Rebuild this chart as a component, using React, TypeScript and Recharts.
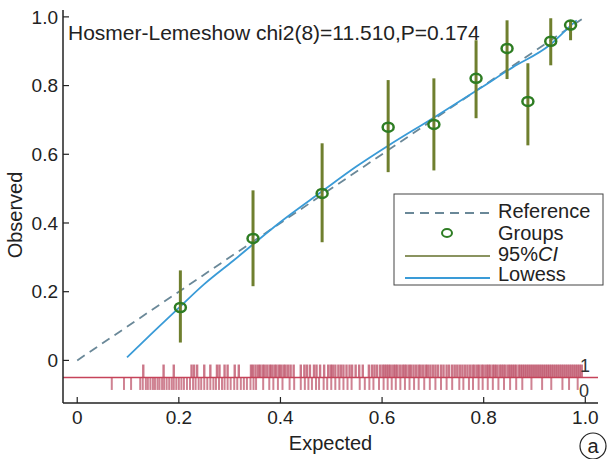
import React from 'react';
import {
  ComposedChart,
  Line,
  Scatter,
  ErrorBar,
  XAxis,
  YAxis,
  ReferenceLine,
} from 'recharts';

// grouped calibration points (expected vs observed) with 95% CI
const groupX = [0.203, 0.346, 0.482, 0.612, 0.702, 0.785, 0.846, 0.887, 0.932, 0.971];
const groupY = [0.154, 0.355, 0.486, 0.679, 0.687, 0.821, 0.908, 0.754, 0.929, 0.976];
const ciLow = [0.052, 0.216, 0.344, 0.548, 0.553, 0.705, 0.819, 0.626, 0.859, 0.932];
const ciHigh = [0.262, 0.495, 0.632, 0.816, 0.821, 0.932, 0.99, 0.865, 0.996, 0.99];

// lowess smoother
const lowessX = [0.098, 0.15, 0.2, 0.25, 0.307, 0.4, 0.48, 0.55, 0.612, 0.7, 0.793, 0.857, 0.93, 0.968, 0.983];
const lowessY = [0.009, 0.083, 0.153, 0.222, 0.29, 0.403, 0.49, 0.565, 0.625, 0.705, 0.792, 0.853, 0.918, 0.97, 0.99];

// reference diagonal
const refX = [0, 1];
const refY = [0, 1];

// rug: predicted probabilities for outcome = 1 and outcome = 0
const rugOnes = [
  0.13, 0.17, 0.19, 0.225, 0.23, 0.236, 0.25, 0.262, 0.275, 0.28, 0.29, 0.296, 0.31, 0.318,
  0.342, 0.346, 0.351, 0.356, 0.36, 0.365, 0.369, 0.374, 0.379, 0.383, 0.388, 0.392, 0.397, 0.401,
  0.406, 0.41, 0.415, 0.42, 0.426, 0.44, 0.447, 0.452, 0.458, 0.466, 0.471, 0.478, 0.486, 0.494,
  0.499, 0.503, 0.508, 0.514, 0.519, 0.524, 0.53, 0.536, 0.541, 0.548, 0.555, 0.562, 0.574, 0.58,
  0.585, 0.59, 0.596, 0.601, 0.605, 0.609, 0.613, 0.617, 0.622, 0.626, 0.63, 0.635, 0.64, 0.644,
  0.648, 0.653, 0.657, 0.662, 0.667, 0.672, 0.676, 0.681, 0.686, 0.69, 0.695, 0.7, 0.705, 0.71,
  0.716, 0.721, 0.727, 0.732, 0.738, 0.743, 0.748, 0.753, 0.758, 0.763, 0.768, 0.773, 0.778, 0.782,
  0.787, 0.791, 0.796, 0.8, 0.805, 0.809, 0.813, 0.818, 0.822, 0.826, 0.831, 0.835, 0.839, 0.843,
  0.848, 0.852, 0.856, 0.86, 0.864, 0.869, 0.873, 0.877, 0.881, 0.885, 0.889, 0.893, 0.897, 0.901,
  0.905, 0.909, 0.913, 0.917, 0.921, 0.925, 0.929, 0.933, 0.937, 0.941, 0.945, 0.949, 0.953, 0.957,
  0.961, 0.965, 0.969, 0.973, 0.977, 0.981, 0.985, 0.989, 0.993,
];
const rugZeros = [
  0.068, 0.092, 0.106, 0.124, 0.129, 0.135, 0.139, 0.144, 0.149, 0.153, 0.158, 0.162, 0.167, 0.171,
  0.176, 0.181, 0.186, 0.19, 0.195, 0.2, 0.205, 0.21, 0.216, 0.222, 0.228, 0.233, 0.239, 0.244,
  0.25, 0.256, 0.262, 0.268, 0.273, 0.279, 0.285, 0.29, 0.296, 0.302, 0.309, 0.315, 0.322, 0.328,
  0.334, 0.341, 0.347, 0.352, 0.366, 0.378, 0.386, 0.395, 0.404, 0.418, 0.427, 0.44, 0.448, 0.455,
  0.462, 0.47, 0.476, 0.485, 0.492, 0.5, 0.508, 0.516, 0.524, 0.532, 0.54, 0.556, 0.566, 0.575,
  0.583, 0.594, 0.603, 0.611, 0.619, 0.627, 0.636, 0.645, 0.654, 0.663, 0.672, 0.683, 0.694, 0.705,
  0.716, 0.727, 0.738, 0.752, 0.76, 0.771, 0.779, 0.79, 0.798, 0.808, 0.818, 0.829, 0.84, 0.852,
  0.864, 0.876, 0.894, 0.915, 0.933, 0.955, 0.968, 0.985,
];
const rugBase = -0.05;
const rugTop = -0.012;
const rugBottom = -0.086;

const xTicks = [0, 0.2, 0.4, 0.6, 0.8, 1.0];
const yTicks = [0, 0.2, 0.4, 0.6, 0.8, 1.0];

const groups = groupX.map((x, i) => ({
  x,
  y: groupY[i],
  err: [groupY[i] - ciLow[i], ciHigh[i] - groupY[i]],
}));
const lowess = lowessX.map((x, i) => ({ x, y: lowessY[i] }));
const reference = refX.map((x, i) => ({ x, y: refY[i] }));
const rugOneData = rugOnes.map((x) => ({ x, y: rugBase, err: [0, rugTop - rugBase] }));
const rugZeroData = rugZeros.map((x) => ({ x, y: rugBase, err: [rugBase - rugBottom, 0] }));

const FONT = '"Liberation Sans", Arial, sans-serif';
const fmt = (v: number) => (v === 0 ? '0' : v.toFixed(1));

const GroupMarker = (props: any) => {
  const { cx, cy } = props;
  if (cx == null || cy == null) return null;
  return <ellipse cx={cx} cy={cy} rx={5.5} ry={4.5} fill="none" stroke="#2e7d23" strokeWidth={2.5} />;
};
const NoMarker = () => <g />;

export default function App() {
  return (
    <div style={{ position: 'absolute', left: 0, top: 0, width: 610, height: 459, background: '#fff', fontFamily: FONT }}>
      <ComposedChart width={610} height={459} margin={{ top: 10, right: 12, bottom: 0, left: 0 }}>
        <XAxis
          type="number"
          dataKey="x"
          domain={[-0.028, 1.025]}
          allowDataOverflow
          ticks={xTicks}
          tickFormatter={fmt}
          height={56}
          tickSize={-6}
          tickMargin={14}
          axisLine={{ stroke: '#222', strokeWidth: 1.5 }}
          tickLine={{ stroke: '#222', strokeWidth: 1.2 }}
          tick={{ fill: '#222', fontSize: 19, fontFamily: FONT }}
          label={{ value: 'Expected', position: 'insideBottom', offset: 9, fill: '#222', fontSize: 20, fontFamily: FONT }}
        />
        <YAxis
          type="number"
          dataKey="y"
          domain={[-0.124, 1.02]}
          allowDataOverflow
          ticks={yTicks}
          tickFormatter={fmt}
          width={63}
          tickSize={-6}
          tickMargin={11}
          axisLine={{ stroke: '#222', strokeWidth: 1.5 }}
          tickLine={{ stroke: '#222', strokeWidth: 1.2 }}
          tick={{ fill: '#222', fontSize: 19, fontFamily: FONT }}
        />
        <Scatter data={rugOneData} dataKey="y" shape={<NoMarker />} isAnimationActive={false}>
          <ErrorBar dataKey="err" direction="y" width={0} stroke="#a81b38" strokeOpacity={0.6} strokeWidth={2.4} />
        </Scatter>
        <Scatter data={rugZeroData} dataKey="y" shape={<NoMarker />} isAnimationActive={false}>
          <ErrorBar dataKey="err" direction="y" width={0} stroke="#a81b38" strokeOpacity={0.55} strokeWidth={2} />
        </Scatter>
        <ReferenceLine y={rugBase} stroke="#c6435a" strokeWidth={1.5} />
        <Line
          data={reference}
          dataKey="y"
          type="linear"
          stroke="#6a8898"
          strokeWidth={1.8}
          strokeDasharray="9 6"
          dot={false}
          isAnimationActive={false}
        />
        <Line
          data={lowess}
          dataKey="y"
          type="monotone"
          stroke="#3a9bd7"
          strokeWidth={1.8}
          dot={false}
          isAnimationActive={false}
        />
        <Scatter data={groups} dataKey="y" shape={<GroupMarker />} isAnimationActive={false}>
          <ErrorBar dataKey="err" direction="y" width={0} stroke="#6f7f2e" strokeWidth={3} />
        </Scatter>
      </ComposedChart>
      <svg width={610} height={459} style={{ position: 'absolute', left: 0, top: 0, pointerEvents: 'none' }}>
        <text x={68} y={40} fontSize={21} fill="#222" fontFamily={FONT}>
          Hosmer-Lemeshow chi2(8)=11.510,P=0.174
        </text>
        <text
          x={22}
          y={215}
          fontSize={20}
          fill="#222"
          fontFamily={FONT}
          textAnchor="middle"
          transform="rotate(-90 22 215)"
        >
          Observed
        </text>
        <text x={580} y={372} fontSize={18} fill="#333" fontFamily={FONT}>1</text>
        <text x={579} y={397} fontSize={18} fill="#333" fontFamily={FONT}>0</text>
        <g fontFamily={FONT} fontSize={20} fill="#222">
          <rect x={394} y={194} width={209} height={91} fill="#fff" stroke="#444" strokeWidth={1} />
          <line x1={405} y1={213} x2={490} y2={213} stroke="#6a8898" strokeWidth={1.8} strokeDasharray="9 6" />
          <text x={498} y={218}>Reference</text>
          <ellipse cx={447} cy={233} rx={5} ry={4} fill="none" stroke="#2e7d23" strokeWidth={2} />
          <text x={498} y={240}>Groups</text>
          <line x1={405} y1={256} x2={490} y2={256} stroke="#8a9360" strokeWidth={1.8} />
          <text x={498} y={261}>
            95%<tspan fontStyle="italic">CI</tspan>
          </text>
          <line x1={405} y1={278} x2={490} y2={278} stroke="#3a9bd7" strokeWidth={1.8} />
          <text x={498} y={281}>Lowess</text>
        </g>
        <circle cx={593} cy={446} r={13} fill="none" stroke="#222" strokeWidth={1.2} />
        <text x={593} y={453} fontSize={20} fill="#222" fontFamily={FONT} textAnchor="middle">a</text>
      </svg>
    </div>
  );
}
